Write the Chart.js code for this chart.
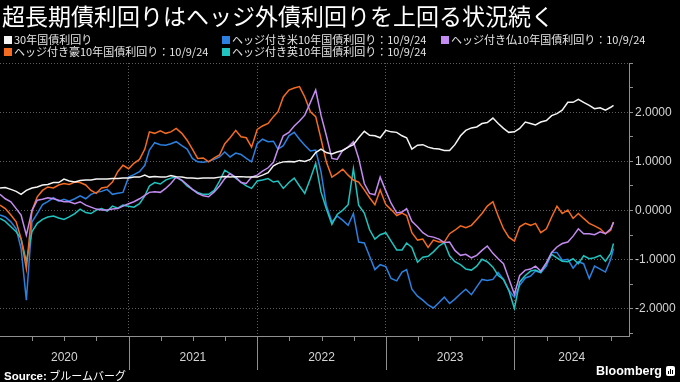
<!DOCTYPE html>
<html>
<head>
<meta charset="utf-8">
<script src="https://cdn.jsdelivr.net/npm/chart.js@4/dist/chart.umd.min.js"></script>
<style>
  html, body { margin: 0; padding: 0; background: #000; }
  #wrap { position: relative; width: 680px; height: 382px; overflow: hidden; background: #000;
          font-family: "Noto Sans CJK JP", "Noto Sans", sans-serif; }
  canvas { position: absolute; left: 0; top: 0; }
  #title { position: absolute; left: 2px; top: 1px; font-size: 23px; line-height: 28px; color: #fff; white-space: nowrap; }
  .lg { position: absolute; font-size: 11px; line-height: 12px; color: #e6e6e6; white-space: nowrap; }
  .lg i { display: inline-block; width: 8px; height: 8px; margin-right: 2px; }
  #src { position: absolute; left: 4px; top: 368px; font-size: 11px; line-height: 14px; color: #fff; white-space: nowrap; }
  #src b { font-family: "Liberation Sans", Arial, sans-serif; font-size: 11.5px; }
  #brand { position: absolute; left: 596px; top: 364px; font: bold 12.5px "Liberation Sans", Arial, sans-serif; color: #fff; }
  #logo { position: absolute; left: 666px; top: 366px; width: 9px; height: 10px; border-radius: 2px; background: #fff; }
  #logo span { position: absolute; bottom: 2px; width: 1px; background: #000; }
</style>
</head>
<body>
<div id="wrap">
  <canvas id="c" width="680" height="382"></canvas>
  <div id="title">超長期債利回りはヘッジ外債利回りを上回る状況続く</div>
  <div id="legend"></div>
  <div id="src"><b>Source:</b> ブルームバーグ</div>
  <div id="brand">Bloomberg</div>
  <div id="logo"><span style="left:2px;height:3px"></span><span style="left:4px;height:5px"></span><span style="left:6px;height:4px"></span></div>
</div>
<script>
// half-monthly observations (1st and 16th), last one is 10/9/24
const dates = [];
for (let y = 2020; y <= 2024; y++) {
  for (let m = 1; m <= 12; m++) {
    for (const d of [1, 16]) {
      if (y === 2024 && (m > 10 || (m === 10 && d === 16))) continue;
      dates.push(`${y}-${String(m).padStart(2, '0')}-${String(d).padStart(2, '0')}`);
    }
  }
}
dates.push('2024-10-09');

// 30年国債利回り
const jgb30 = [
  0.46, 0.47, 0.43, 0.39, 0.33, 0.41, 0.46, 0.48, 0.52, 0.53, 0.57, 0.57, 0.64, 0.60, 0.58, 0.61, 0.62, 0.62, 0.64, 0.64, 0.64, 0.65, 0.65, 0.66,
  0.66, 0.68, 0.68, 0.72, 0.68, 0.69, 0.68, 0.68, 0.71, 0.69, 0.68, 0.66, 0.66, 0.65, 0.66, 0.66, 0.66, 0.68, 0.69, 0.68, 0.69, 0.69, 0.68, 0.68,
  0.68, 0.72, 0.77, 0.91, 0.96, 0.99, 1.00, 0.99, 1.02, 1.00, 1.04, 1.18, 1.25, 1.18, 1.15, 1.19, 1.22, 1.29, 1.34, 1.48, 1.61, 1.53, 1.52, 1.48,
  1.63, 1.60, 1.59, 1.52, 1.48, 1.25, 1.33, 1.34, 1.29, 1.26, 1.25, 1.22, 1.22, 1.34, 1.52, 1.63, 1.68, 1.70, 1.77, 1.79, 1.88, 1.77, 1.67, 1.59,
  1.60, 1.67, 1.80, 1.77, 1.74, 1.80, 1.83, 1.93, 1.97, 2.04, 2.20, 2.20, 2.26, 2.20, 2.14, 2.07, 2.09, 2.04, 2.10, 2.14
];
// ヘッジ付き米10年
const usHedged = [
  -0.09, -0.13, -0.23, -0.37, -0.77, -1.82, -0.23, -0.06, 0.12, 0.18, 0.26, 0.19, 0.23, 0.19, 0.24, 0.30, 0.24, 0.33, 0.37, 0.39, 0.43, 0.33, 0.35, 0.37,
  0.68, 0.73, 0.79, 0.92, 1.23, 1.38, 1.34, 1.33, 1.36, 1.40, 1.32, 1.25, 1.06, 0.99, 0.98, 1.00, 1.04, 1.09, 1.19, 1.09, 1.17, 1.14, 1.06, 0.99,
  1.36, 1.45, 1.40, 1.41, 1.25, 1.32, 1.52, 1.59, 1.45, 1.33, 1.21, 1.23, 0.79, 0.11, -0.23, -0.11, -0.20, -0.30, -0.06, -0.64, -0.66, -0.93, -1.20, -1.10,
  -1.14, -1.38, -1.43, -1.25, -1.20, -1.60, -1.74, -1.82, -1.92, -1.98, -1.87, -1.76, -1.89, -1.80, -1.69, -1.60, -1.71, -1.55, -1.40, -1.42, -1.40, -1.26, -1.40, -1.62,
  -1.76, -1.52, -1.37, -1.33, -1.23, -1.26, -1.13, -0.85, -0.85, -1.01, -0.99, -1.17, -1.04, -1.08, -1.38, -1.13, -1.19, -1.25, -0.99, -0.77
];
// ヘッジ付き仏10年
const frHedged = [
  0.33, 0.24, 0.18, 0.04, -0.09, -0.50, 0.00, 0.21, 0.23, 0.26, 0.24, 0.21, 0.18, 0.18, 0.14, 0.18, 0.11, 0.07, 0.03, 0.01, 0.01, 0.03, 0.04, 0.09,
  0.14, 0.18, 0.24, 0.31, 0.37, 0.38, 0.37, 0.45, 0.55, 0.68, 0.62, 0.53, 0.43, 0.35, 0.30, 0.28, 0.38, 0.50, 0.65, 0.75, 0.68, 0.57, 0.55, 0.68,
  0.72, 0.80, 0.87, 0.98, 1.25, 1.52, 1.59, 1.72, 1.82, 1.94, 2.20, 2.45, 1.94, 1.53, 1.06, 1.04, 1.23, 1.29, 1.40, 1.06, 0.55, 0.35, 0.32, 0.68,
  0.40, 0.15, -0.05, -0.03, 0.04, -0.22, -0.33, -0.45, -0.52, -0.54, -0.58, -0.65, -0.64, -0.81, -0.91, -0.89, -0.96, -0.91, -0.81, -0.72, -0.87, -0.98, -1.08, -1.38,
  -1.70, -1.32, -1.21, -1.19, -1.13, -1.23, -1.06, -0.85, -0.74, -0.67, -0.64, -0.52, -0.37, -0.47, -0.47, -0.49, -0.43, -0.47, -0.37, -0.24
];
// ヘッジ付き豪10年
const auHedged = [
  0.11, 0.04, -0.09, -0.23, -0.57, -1.18, 0.00, 0.28, 0.41, 0.48, 0.46, 0.52, 0.55, 0.53, 0.58, 0.57, 0.52, 0.41, 0.35, 0.46, 0.48, 0.58, 0.79, 0.92,
  0.85, 0.96, 1.04, 1.25, 1.60, 1.57, 1.62, 1.57, 1.60, 1.67, 1.57, 1.43, 1.25, 1.06, 1.07, 0.99, 1.07, 1.13, 1.36, 1.48, 1.63, 1.50, 1.48, 1.29,
  1.65, 1.72, 1.77, 1.91, 2.01, 2.31, 2.45, 2.49, 2.52, 2.31, 2.01, 1.91, 1.46, 0.99, 0.68, 0.75, 0.84, 0.72, 0.62, 0.58, 0.42, 0.26, 0.12, 0.42,
  0.12, 0.02, -0.10, -0.05, -0.10, -0.45, -0.60, -0.58, -0.75, -0.60, -0.64, -0.64, -0.47, -0.40, -0.31, -0.35, -0.30, -0.18, -0.06, 0.09, 0.18, -0.11, -0.37, -0.54,
  -0.62, -0.33, -0.26, -0.30, -0.26, -0.45, -0.37, -0.13, 0.09, -0.06, 0.01, -0.16, -0.06, -0.16, -0.26, -0.31, -0.37, -0.47, -0.40, -0.23
];
// ヘッジ付き英10年
const ukHedged = [
  -0.16, -0.22, -0.33, -0.43, -0.57, -1.04, -0.43, -0.26, -0.18, -0.13, -0.11, -0.15, -0.18, -0.13, -0.06, 0.03, -0.04, -0.06, 0.01, 0.04, -0.01, 0.09, 0.05, 0.11,
  0.09, 0.07, 0.14, 0.30, 0.50, 0.57, 0.54, 0.62, 0.66, 0.68, 0.61, 0.50, 0.43, 0.37, 0.33, 0.33, 0.41, 0.60, 0.82, 0.75, 0.66, 0.58, 0.50, 0.45,
  0.60, 0.62, 0.65, 0.58, 0.60, 0.45, 0.57, 0.66, 0.50, 0.35, 0.65, 0.96, 0.38, 0.04, -0.28, -0.08, 0.01, 0.12, 0.85, 0.11, -0.05, -0.39, -0.58, -0.49,
  -0.45, -0.62, -0.80, -0.80, -0.66, -0.75, -1.05, -0.95, -0.93, -0.84, -0.72, -0.65, -0.92, -1.04, -1.10, -1.19, -1.21, -1.13, -0.99, -1.04, -1.15, -1.32, -1.40, -1.62,
  -1.99, -1.45, -1.32, -1.23, -1.21, -1.26, -1.08, -0.89, -0.96, -1.03, -1.04, -0.98, -1.08, -0.92, -0.98, -0.96, -0.91, -1.03, -0.87, -0.67
];

const years = [2020, 2021, 2022, 2023, 2024];
const yTicks = [-2.5, -2, -1.5, -1, -0.5, 0, 0.5, 1, 1.5, 2, 2.5, 3];
const xMin = 2020, xMax = 2024.891;
const yMin = -2.55, yMax = 3;

const series = [
  { name: '30年国債利回り', values: jgb30, color: '#f4f4f4', order: 0, pos: [4, 33] },
  { name: 'ヘッジ付き米10年国債利回り：10/9/24', values: usHedged, color: '#2b80e0', order: 4, pos: [222, 33] },
  { name: 'ヘッジ付き仏10年国債利回り：10/9/24', values: frHedged, color: '#c48bf0', order: 1, pos: [441, 33] },
  { name: 'ヘッジ付き豪10年国債利回り：10/9/24', values: auHedged, color: '#f46b21', order: 2, pos: [4, 45] },
  { name: 'ヘッジ付き英10年国債利回り：10/9/24', values: ukHedged, color: '#1fc4c0', order: 3, pos: [222, 45] }
];

function toYear(s) {
  const [y, m, d] = s.split('-').map(Number);
  const t0 = Date.UTC(y, 0, 1), t1 = Date.UTC(y + 1, 0, 1);
  return y + (Date.UTC(y, m - 1, d) - t0) / (t1 - t0);
}

// legend
const legend = document.getElementById('legend');
series.forEach(s => {
  const el = document.createElement('div');
  el.className = 'lg';
  el.style.left = s.pos[0] + 'px';
  el.style.top = s.pos[1] + 'px';
  el.innerHTML = `<i style="background:${s.color}"></i>${s.name}`;
  legend.appendChild(el);
});

// year labels sit in the middle of the visible part of each year
const labelPos = years.map(y => (Math.max(y, xMin) + Math.min(y + 1, xMax)) / 2);
const yearBounds = years.filter(y => y > xMin && y < xMax);
const quarterMarks = [];
years.forEach(y => [0, 0.25, 0.5, 0.75].forEach(q => {
  const v = y + q;
  if (v > xMin && v < xMax) quarterMarks.push(v);
}));

const gridCol = '#5c5c5c';
const axisCol = '#8f8f8f';
const isWhole = v => Math.abs(v - Math.round(v)) < 1e-9;

const axisMarks = {
  id: 'axisMarks',
  afterDraw(chart) {
    const sx = chart.scales.x, ctx = chart.ctx, y0 = sx.top;
    ctx.save();
    ctx.strokeStyle = axisCol;
    ctx.lineWidth = 1;
    quarterMarks.forEach(v => {
      const px = Math.round(sx.getPixelForValue(v)) + 0.5;
      const len = isWhole(v) ? 34 : 5;
      ctx.beginPath();
      ctx.moveTo(px, y0);
      ctx.lineTo(px, y0 + len);
      ctx.stroke();
    });
    ctx.restore();
  }
};

new Chart(document.getElementById('c'), {
  type: 'line',
  data: {
    datasets: series.map(s => ({
      label: s.name,
      data: dates.map((d, i) => ({ x: toYear(d), y: s.values[i] })),
      borderColor: s.color,
      borderWidth: 1.5,
      pointRadius: 0,
      tension: 0,
      order: s.order
    }))
  },
  options: {
    responsive: false,
    animation: false,
    devicePixelRatio: 1,
    layout: { padding: { top: 63, left: 0, right: 0, bottom: 0 } },
    plugins: { legend: { display: false }, tooltip: { enabled: false } },
    scales: {
      x: {
        type: 'linear',
        position: 'bottom',
        min: xMin,
        max: xMax,
        afterBuildTicks: s => {
          s.ticks = [...yearBounds, ...labelPos].sort((a, b) => a - b).map(v => ({ value: v }));
        },
        afterFit: s => { s.height = 46; },
        grid: {
          color: c => (c.tick && isWhole(c.tick.value)) ? gridCol : 'rgba(0,0,0,0)',
          drawTicks: false
        },
        border: { display: true, color: axisCol, width: 1, dash: [1, 2] },
        ticks: {
          autoSkip: false,
          maxRotation: 0,
          padding: 14,
          color: '#d4d4d4',
          font: { family: 'Liberation Sans', size: 12 },
          callback: v => {
            const i = labelPos.indexOf(v);
            return i >= 0 ? String(years[i]) : '';
          }
        }
      },
      y: {
        type: 'linear',
        position: 'right',
        min: yMin,
        max: yMax,
        afterBuildTicks: s => { s.ticks = yTicks.map(v => ({ value: v })); },
        afterFit: s => { s.width = 51; },
        grid: {
          color: c => (c.tick && isWhole(c.tick.value)) ? gridCol : 'rgba(0,0,0,0)',
          drawTicks: true,
          tickLength: 4,
          tickColor: axisCol
        },
        border: { display: true, color: axisCol, width: 1, dash: [1, 2] },
        ticks: {
          padding: 2,
          color: '#d4d4d4',
          font: { family: 'Liberation Sans', size: 12 },
          callback: v => (isWhole(v) && v < yMax) ? v.toFixed(4) : ''
        }
      }
    }
  },
  plugins: [axisMarks]
});
</script>
</body>
</html>
